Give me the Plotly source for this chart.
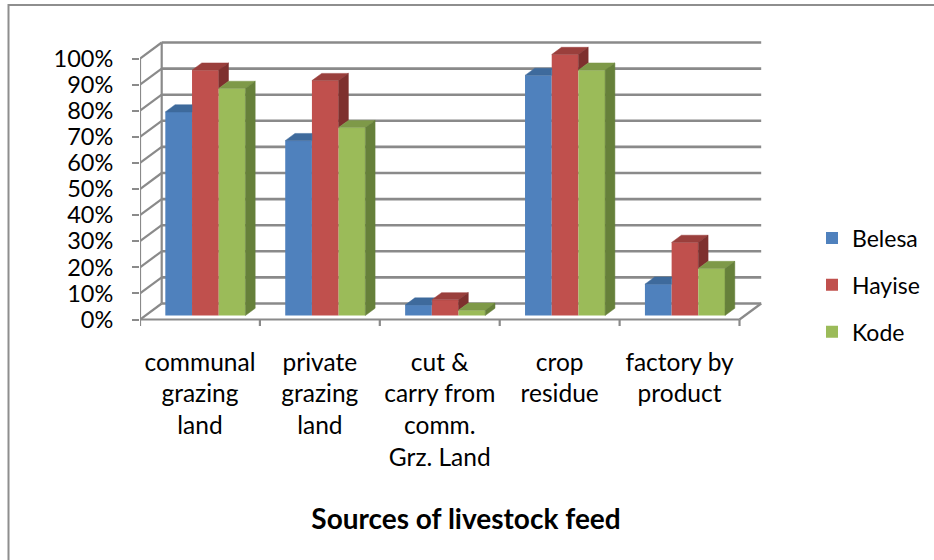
import plotly.graph_objects as go

# ---- data -------------------------------------------------------------
categories = [
    "communal\ngrazing\nland",
    "private\ngrazing\nland",
    "cut &\ncarry from\ncomm.\nGrz. Land",
    "crop\nresidue",
    "factory by\nproduct",
]
series_names = ["Belesa", "Hayise", "Kode"]
belesa = [78, 67, 4, 92, 12]
hayise = [94, 90, 6, 100, 28]
kode = [87, 72, 2, 94, 18]
y_tick_values = [0, 10, 20, 30, 40, 50, 60, 70, 80, 90, 100]
y_tick_labels = ["0%", "10%", "20%", "30%", "40%", "50%",
                 "60%", "70%", "80%", "90%", "100%"]
x_title = "Sources of livestock feed"

series_values = [belesa, hayise, kode]

# ---- styling ----------------------------------------------------------
FONT = "Lato"
GRID = "#8a8a8a"
front_colors = ["#4F81BD", "#C0504D", "#9BBB59"]
top_colors = ["#3E6A9C", "#9A3F3C", "#7E9948"]
side_colors = ["#385D8A", "#7E302E", "#66803A"]

W, H = 934, 560
L, R, T, B = 140, 780, 30, 326        # plot area in pixels
Y0_PX = 319.5                          # pixel row of the front 0% line
PX_X = 119.9                           # pixels per category
PX_Y = 2.61                            # pixels per percentage point

DEPTH_X = 21.7 / PX_X                  # depth of the floor, in axis units
DEPTH_Y = 16.0 / PX_Y
BAR_W = 26.7 / PX_X
BAR_FRONT, BAR_BACK = 0.25, 0.70       # depth slab occupied by the columns
GAP = (1 - 3 * BAR_W) / 2

x_range = [-0.5, -0.5 + (R - L) / PX_X]
y_range = [-(B - Y0_PX) / PX_Y, (Y0_PX - T) / PX_Y]

n_cat = len(categories)
base = BAR_FRONT * DEPTH_Y
ddx = (BAR_BACK - BAR_FRONT) * DEPTH_X
ddy = (BAR_BACK - BAR_FRONT) * DEPTH_Y
slope = ddy / ddx


def left_edge(i, s):
    return i - 0.5 + GAP + s * BAR_W + BAR_FRONT * DEPTH_X


fig = go.Figure()

# front faces of the columns
for s, (name, vals) in enumerate(zip(series_names, series_values)):
    fig.add_trace(go.Bar(
        name=name,
        x=[left_edge(i, s) + BAR_W / 2 for i in range(n_cat)],
        y=vals,
        base=[base] * n_cat,
        width=[BAR_W] * n_cat,
        marker=dict(color=front_colors[s], line=dict(width=0)),
        legendgroup=name,
        hoverinfo="skip",
    ))


def face(xs, ys, color):
    fig.add_trace(go.Scatter(
        x=xs + [xs[0]], y=ys + [ys[0]], mode="lines", fill="toself",
        fillcolor=color, line=dict(color=color, width=0.5),
        showlegend=False, hoverinfo="skip",
    ))


# top and side faces, trimmed where the next column hides them
for i in range(n_cat):
    for s in range(3):
        v = series_values[s][i]
        xl = left_edge(i, s)
        xr = xl + BAR_W
        t = base + v
        tn = base + series_values[s + 1][i] if s < 2 else None

        # top face
        if tn is None or tn <= t:
            face([xl, xr, xr + ddx, xl + ddx], [t, t, t + ddy, t + ddy], top_colors[s])
        elif tn >= t + ddy:
            face([xl, xr, xr, xl + ddx], [t, t, t + ddy, t + ddy], top_colors[s])
        else:
            xc = xr + (t + ddy - tn) / slope
            face([xl, xr, xr, xc, xl + ddx], [t, t, tn, t + ddy, t + ddy], top_colors[s])

        # side face
        low = base if tn is None else max(base, tn)
        if low < t:
            face([xr, xr, xr + ddx, xr + ddx], [low, t, t + ddy, low + ddy], side_colors[s])

# ---- walls, floor and axes -------------------------------------------
shapes = []
line = dict(color=GRID, width=2.2)
x_back0, x_back1 = -0.5 + DEPTH_X, n_cat - 0.5 + DEPTH_X
for v in y_tick_values:
    shapes.append(dict(type="line", xref="x", yref="y", layer="below",
                       x0=x_back0, x1=x_back1, y0=v + DEPTH_Y, y1=v + DEPTH_Y,
                       line=dict(color=GRID, width=2.6)))
    shapes.append(dict(type="line", xref="x", yref="y", layer="below",
                       x0=-0.5, x1=x_back0, y0=v, y1=v + DEPTH_Y, line=line))
# back-left edge and front vertical axis
shapes.append(dict(type="line", xref="x", yref="y", layer="below",
                   x0=x_back0, x1=x_back0, y0=DEPTH_Y, y1=100 + DEPTH_Y, line=line))
shapes.append(dict(type="line", xref="x", yref="y", layer="below",
                   x0=-0.5, x1=-0.5, y0=0, y1=100, line=line))
# floor front edge, right edge and category ticks
shapes.append(dict(type="line", xref="x", yref="y", layer="below",
                   x0=-0.5, x1=n_cat - 0.5, y0=0, y1=0, line=line))
shapes.append(dict(type="line", xref="x", yref="y", layer="below",
                   x0=n_cat - 0.5, x1=x_back1, y0=0, y1=DEPTH_Y, line=line))
for k in range(n_cat + 1):
    shapes.append(dict(type="line", xref="x", yref="y", layer="below",
                       x0=k - 0.5, x1=k - 0.5, y0=0, y1=-7 / PX_Y, line=line))
# chart frame
shapes.append(dict(type="rect", xref="paper", yref="paper", layer="below",
                   x0=(8.5 - L) / (R - L), x1=(945 - L) / (R - L),
                   y0=(B - 575) / (B - T), y1=(B - 5) / (B - T),
                   line=dict(color="#8e8e8e", width=2)))

fig.update_layout(
    width=W, height=H,
    margin=dict(l=L, r=W - R, t=T, b=H - B, autoexpand=False),
    paper_bgcolor="white", plot_bgcolor="white",
    barmode="overlay",
    font=dict(family=FONT, size=23, color="black"),
    shapes=shapes,
    showlegend=True,
    legend=dict(
        xref="container", yref="container",
        x=812 / W, xanchor="left",
        y=1 - 285 / H, yanchor="middle",
        font=dict(family=FONT, size=23, color="black"),
        bgcolor="rgba(0,0,0,0)", tracegroupgap=14,
    ),
    title=dict(
        text="<b>" + x_title + "</b>",
        font=dict(family=FONT, size=28, color="black"),
        x=466 / W, xanchor="center", xref="container",
        y=1 - 519 / H, yanchor="middle", yref="container",
    ),
)

fig.update_xaxes(
    range=x_range, showgrid=False, zeroline=False, showline=False,
    tickmode="array", tickvals=list(range(n_cat)),
    ticktext=[c.replace("&", "&amp;").replace("\n", "<br>") for c in categories],
    ticks="", ticklabelstandoff=19,
    tickfont=dict(family=FONT, size=24.5, color="black"),
    fixedrange=True,
)
fig.update_yaxes(
    range=y_range, showgrid=False, zeroline=False, showline=False,
    tickmode="array", tickvals=y_tick_values, ticktext=y_tick_labels,
    ticks="outside", ticklen=7, tickwidth=2, tickcolor=GRID,
    ticklabelstandoff=14,
    tickfont=dict(family=FONT, size=23.5, color="black"),
    fixedrange=True,
)

fig.write_html("out.html")
